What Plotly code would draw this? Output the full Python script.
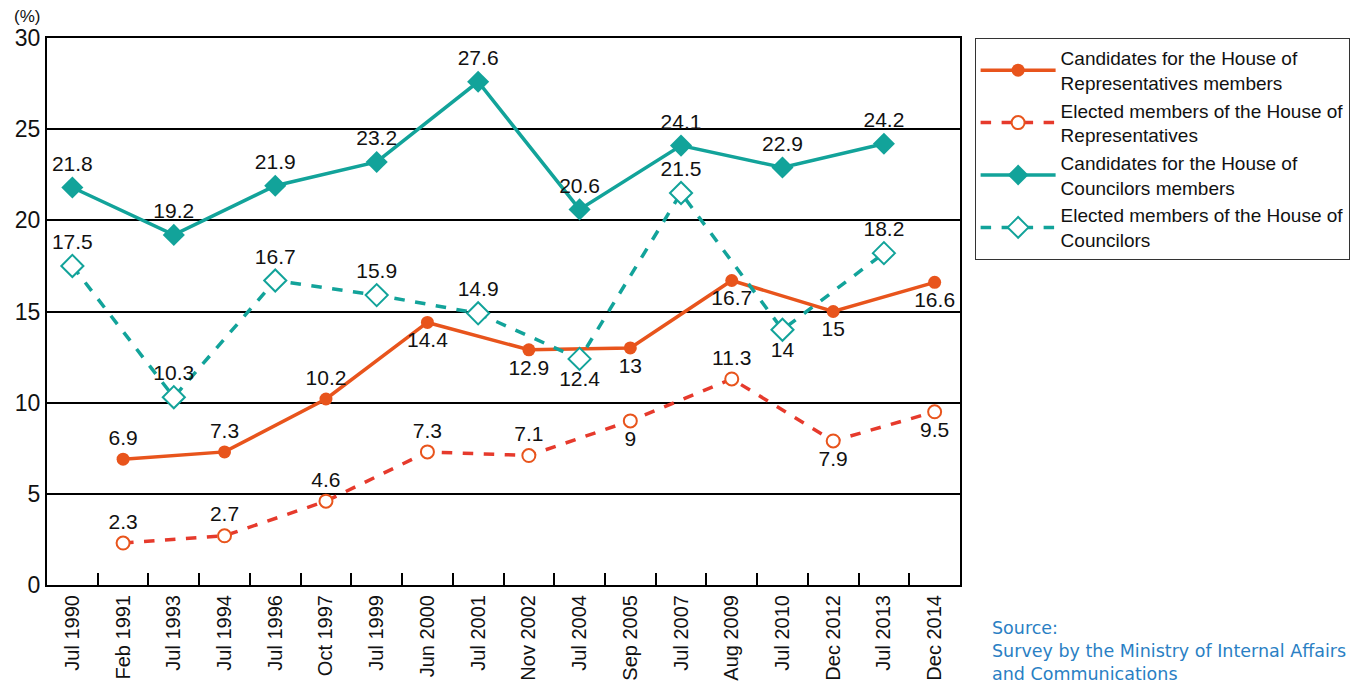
import plotly.graph_objects as go

categories = ["Jul 1990", "Feb 1991", "Jul 1993", "Jul 1994", "Jul 1996", "Oct 1997",
              "Jul 1999", "Jun 2000", "Jul 2001", "Nov 2002", "Jul 2004", "Sep 2005",
              "Jul 2007", "Aug 2009", "Jul 2010", "Dec 2012", "Jul 2013", "Dec 2014"]

hor_candidates = [None, 6.9, None, 7.3, None, 10.2, None, 14.4, None, 12.9, None, 13,
                  None, 16.7, None, 15, None, 16.6]
hor_elected = [None, 2.3, None, 2.7, None, 4.6, None, 7.3, None, 7.1, None, 9,
               None, 11.3, None, 7.9, None, 9.5]
hoc_candidates = [21.8, None, 19.2, None, 21.9, None, 23.2, None, 27.6, None, 20.6, None,
                  24.1, None, 22.9, None, 24.2, None]
hoc_elected = [17.5, None, 10.3, None, 16.7, None, 15.9, None, 14.9, None, 12.4, None,
               21.5, None, 14, None, 18.2, None]

# label placement per point (T = above, B = below)
hor_cand_pos = ["T", "T", "T", "T", "T", "T", "T", "B", "T", "B", "T", "B", "T", "B", "T", "B", "T", "B"]
hor_elec_pos = ["T", "T", "T", "T", "T", "T", "T", "T", "T", "T", "T", "B", "T", "T", "T", "B", "T", "B"]
hoc_cand_pos = ["T"] * 18
hoc_elec_pos = ["T", "T", "T", "T", "T", "T", "T", "T", "T", "T", "B", "T", "T", "T", "B", "T", "T", "T"]

ORANGE = "#E8541C"
RED = "#E63A2C"
TEAL = "#12A39A"
FONT = "Liberation Sans, Arial, sans-serif"
LABEL_SIZE = 21


def labels(vals):
    return [("" if v is None else f"{v:g}") for v in vals]


def positions(p):
    return ["top center" if s == "T" else "bottom center" for s in p]


fig = go.Figure()

fig.add_trace(go.Scatter(
    x=categories, y=hor_candidates, mode="lines+markers+text", connectgaps=True,
    name="Candidates for the House of<br>Representatives members",
    line=dict(color=ORANGE, width=3.5),
    marker=dict(symbol="circle", size=13, color=ORANGE),
    text=labels(hor_candidates), textposition=positions(hor_cand_pos),
    textfont=dict(size=LABEL_SIZE, color="#111", family=FONT)))

fig.add_trace(go.Scatter(
    x=categories, y=hor_elected, mode="lines+markers+text", connectgaps=True,
    name="Elected members of the House of<br>Representatives",
    line=dict(color=RED, width=3.5, dash="dash"),
    marker=dict(symbol="circle", size=13, color="white", line=dict(color=ORANGE, width=2)),
    text=labels(hor_elected), textposition=positions(hor_elec_pos),
    textfont=dict(size=LABEL_SIZE, color="#111", family=FONT)))

fig.add_trace(go.Scatter(
    x=categories, y=hoc_candidates, mode="lines+markers+text", connectgaps=True,
    name="Candidates for the House of<br>Councilors members",
    line=dict(color=TEAL, width=3.5),
    marker=dict(symbol="diamond", size=17, color=TEAL),
    text=labels(hoc_candidates), textposition=positions(hoc_cand_pos),
    textfont=dict(size=LABEL_SIZE, color="#111", family=FONT)))

fig.add_trace(go.Scatter(
    x=categories, y=hoc_elected, mode="lines+markers+text", connectgaps=True,
    name="Elected members of the House of<br>Councilors",
    line=dict(color=TEAL, width=3.5, dash="dash"),
    marker=dict(symbol="diamond", size=17, color="white", line=dict(color=TEAL, width=2)),
    text=labels(hoc_elected), textposition=positions(hoc_elec_pos),
    textfont=dict(size=LABEL_SIZE, color="#111", family=FONT)))

fig.update_layout(
    width=1351, height=687,
    margin=dict(l=39, r=399, t=30, b=110, autoexpand=False),
    plot_bgcolor="white", paper_bgcolor="white",
    font=dict(family=FONT, color="#111"),
    legend=dict(x=1.016, y=1.0, xanchor="left", yanchor="top",
                bordercolor="#333", borderwidth=1,
                font=dict(size=19, family=FONT, color="#111"),
                tracegroupgap=4, itemwidth=75),
    xaxis=dict(type="category", range=[-0.5, 17.5], showline=True, linecolor="black",
               linewidth=2, mirror=True, ticks="inside", tickson="boundaries",
               ticklen=12, tickcolor="black", tickwidth=1.5, tickangle=-90,
               tickfont=dict(size=20, family=FONT, color="#111"), showgrid=False,
               automargin=False),
    yaxis=dict(range=[0, 30], tickvals=[0, 5, 10, 15, 20, 25, 30], showline=True,
               linecolor="black", linewidth=2, mirror=True, showgrid=True,
               gridcolor="black", gridwidth=1.5, zeroline=False, ticks="",
               tickfont=dict(size=23, family=FONT, color="#111"), automargin=False),
    annotations=[
        dict(text="(%)", xref="paper", yref="paper", x=-0.005, y=1.0, yshift=10,
             xanchor="right", yanchor="bottom", showarrow=False,
             font=dict(size=17, family=FONT, color="#111")),
        dict(text="Source:<br>Survey by the Ministry of Internal Affairs<br>and Communications",
             xref="paper", yref="paper", x=1.0329, y=-0.057, xanchor="left", yanchor="top",
             align="left", showarrow=False,
             font=dict(size=17.5, family="DejaVu Sans, sans-serif", color="#2A7FC4")),
    ],
)

fig.write_html("out.html")
